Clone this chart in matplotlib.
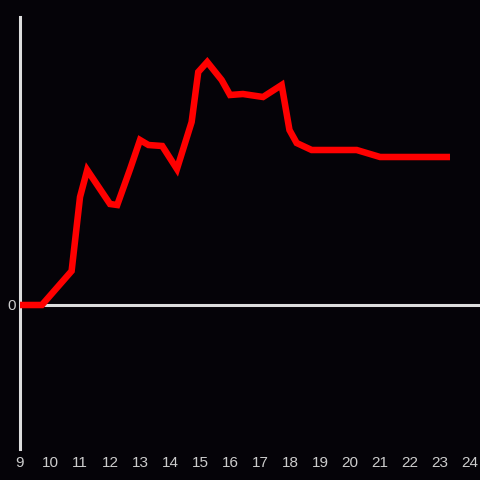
import matplotlib
matplotlib.use('Agg')
import matplotlib.pyplot as plt

# hour of day vs value (arbitrary units)
hours = [9.0, 9.73, 10.72, 11.0, 11.24, 12.0, 12.24, 12.67, 13.0, 13.28, 13.74,
         14.23, 14.72, 14.94, 15.24, 15.72, 16.0, 16.43, 17.1, 17.72, 17.98,
         18.22, 18.72, 20.22, 21.0, 23.33]
values = [0, 0, 34, 108, 135, 101, 100, 136, 165, 160, 159,
          136, 183, 233, 243, 225, 210, 211, 208, 220, 175,
          162, 155, 155, 148, 148]
xticks = list(range(9, 25))

bg = '#050308'
axis_col = '#dddddd'

plt.rcParams['font.family'] = ['Liberation Sans', 'DejaVu Sans']

fig = plt.figure(figsize=(4.8, 4.8), dpi=100, facecolor=bg)
ax = fig.add_axes([20 / 480, 31 / 480, 460 / 480, 432 / 480])
ax.set_facecolor(bg)

ax.plot(hours, values, color='#ff0000', linewidth=4.7, solid_joinstyle='miter',
        solid_capstyle='butt', zorder=3)
ax.axhline(0, color=axis_col, linewidth=2.2, zorder=2)

ax.set_xlim(9, 24.33)
ax.set_ylim(-144, 288)

for s in ['top', 'right', 'bottom']:
    ax.spines[s].set_visible(False)
ax.spines['left'].set_color(axis_col)
ax.spines['left'].set_linewidth(2.2)

ax.set_xticks(xticks)
ax.set_xticklabels([str(t) for t in xticks])
ax.set_yticks([0])
ax.set_yticklabels(['0'])
ax.tick_params(axis='both', length=0, colors='#cccccc', labelsize=11)
ax.tick_params(axis='x', pad=5)
ax.tick_params(axis='y', pad=3)

fig.savefig('out.png', dpi=100, facecolor=bg)
